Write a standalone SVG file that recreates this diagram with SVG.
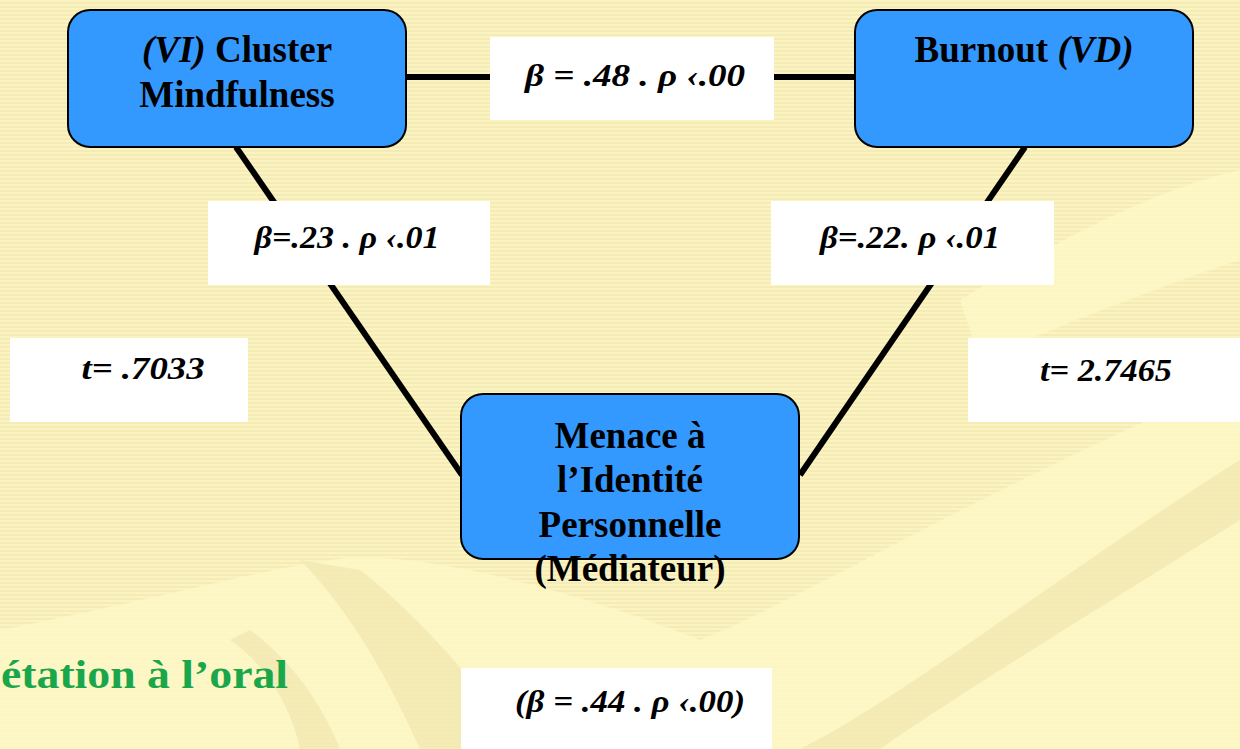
<svg xmlns="http://www.w3.org/2000/svg" width="1240" height="749" viewBox="0 0 1240 749">
<defs>
<pattern id="stripes" width="8" height="4" patternUnits="userSpaceOnUse">
<rect width="8" height="4" fill="#FBF4C2"/>
<rect y="2" width="8" height="2" fill="#F4ECB4"/>
</pattern>
</defs>
<style>
.node{fill:#3399FF;stroke:#000;stroke-width:2}
.lbl{fill:#fff}
.nt{font-family:"Liberation Serif",serif;font-weight:bold;font-size:37px;fill:#000;text-anchor:middle}
.et{font-family:"Liberation Serif",serif;font-weight:bold;font-style:italic;font-size:32px;fill:#000;text-anchor:middle}
.tt{font-family:"Liberation Serif",serif;font-weight:bold;font-style:italic;font-size:31px;fill:#000;text-anchor:middle}
.conn{stroke:#000;stroke-width:6;fill:none}
</style>
<rect width="1240" height="749" fill="url(#stripes)"/>
<g id="background-shapes" opacity="0.85">
<path d="M0 630 C150 600 260 570 330 560 C420 545 600 600 700 640 C800 600 1000 480 1240 380 L1240 749 L0 749 Z" fill="#FDF8C6"/>
<path d="M300 560 C340 600 380 660 420 749 L520 749 C480 680 400 600 360 570 Z" fill="#F3EAB5"/>
<path d="M230 640 C260 660 290 700 300 749 L340 749 C320 700 290 660 250 630 Z" fill="#F3EAB5"/>
<path d="M800 749 C900 700 1080 560 1240 460 L1240 520 C1080 620 950 700 880 749 Z" fill="#F3EAB5"/>
<path d="M960 300 C1040 250 1150 190 1240 170 L1240 260 C1150 290 1050 330 980 360 Z" fill="#FDF8C6"/>
</g>
<g id="connectors">
<line class="conn" x1="406" y1="77" x2="855" y2="77"/>
<line class="conn" x1="236" y1="147" x2="462" y2="475"/>
<line class="conn" x1="1025" y1="147" x2="800" y2="475"/>
</g>
<g id="label-top">
<rect class="lbl" x="490" y="37" width="284" height="83"/>
<text class="et" x="635" y="86" textLength="220" lengthAdjust="spacingAndGlyphs">β = .48 . ρ ‹.00</text>
</g>
<g id="label-left">
<rect class="lbl" x="208" y="201" width="282" height="84"/>
<text class="et" x="347" y="248" textLength="185" lengthAdjust="spacingAndGlyphs">β=.23 . ρ ‹.01</text>
</g>
<g id="label-right">
<rect class="lbl" x="771" y="201" width="283" height="84"/>
<text class="et" x="910" y="248" textLength="180" lengthAdjust="spacingAndGlyphs">β=.22. ρ ‹.01</text>
</g>
<g id="label-t-left">
<rect class="lbl" x="10" y="338" width="238" height="84"/>
<text class="tt" x="143" y="379" textLength="123" lengthAdjust="spacingAndGlyphs">t= .7033</text>
</g>
<g id="label-t-right">
<rect class="lbl" x="968" y="338" width="272" height="84"/>
<text class="tt" x="1106" y="381" textLength="132" lengthAdjust="spacingAndGlyphs">t= 2.7465</text>
</g>
<g id="label-bottom">
<rect class="lbl" x="461" y="668" width="311" height="81"/>
<text class="et" x="630" y="712" textLength="230" lengthAdjust="spacingAndGlyphs">(β = .44 . ρ ‹.00)</text>
</g>
<g id="node-vi">
<rect class="node" x="68" y="10" width="338" height="137" rx="22"/>
<text class="nt" x="237" y="62"><tspan font-style="italic">(VI)</tspan> Cluster</text>
<text class="nt" x="237" y="107">Mindfulness</text>
</g>
<g id="node-vd">
<rect class="node" x="855" y="10" width="338" height="137" rx="22"/>
<text class="nt" x="1024" y="62">Burnout <tspan font-style="italic">(VD)</tspan></text>
</g>
<g id="node-mediateur">
<rect class="node" x="461" y="394" width="338" height="165" rx="22"/>
<text class="nt" x="630" y="448">Menace à</text>
<text class="nt" x="630" y="492">l’Identité</text>
<text class="nt" x="630" y="537">Personnelle</text>
<text class="nt" x="630" y="581">(Médiateur)</text>
</g>
<text x="1" y="688" font-family="Liberation Serif, serif" font-weight="bold" font-size="40" fill="#1AA64A" textLength="287" lengthAdjust="spacingAndGlyphs">étation à l’oral</text>
</svg>
